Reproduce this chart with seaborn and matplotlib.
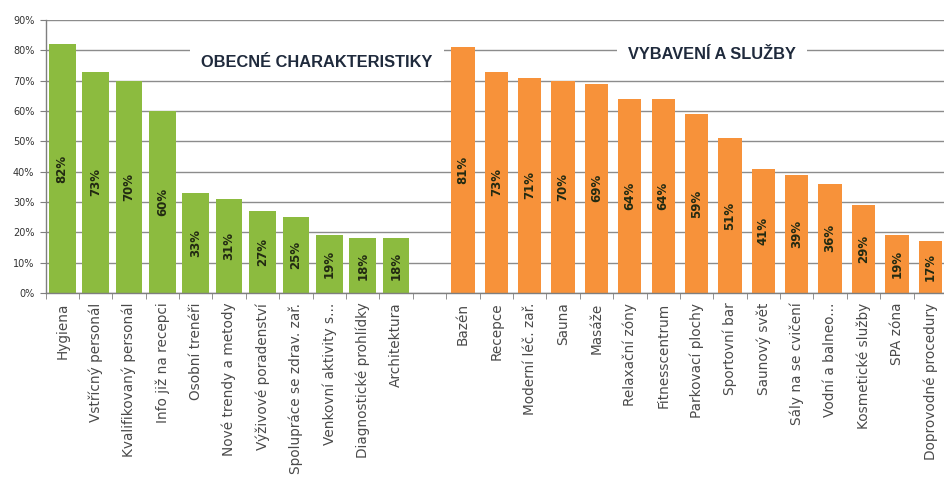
import numpy as np
import pandas as pd
import matplotlib
matplotlib.use('Agg')
import matplotlib.pyplot as plt
import matplotlib.ticker as mticker
import seaborn as sns

sns.set_style('white')
plt.rcParams['font.family'] = ['DejaVu Sans']

GREEN  = '#8CBB3F'
ORANGE = '#F7923A'
GRID   = '#8C8C8C'

# ── data
obecne_labels = ['Hygiena', 'Vstřícný personál', 'Kvalifikovaný personál', 'Info již na recepci',
                 'Osobní trenéři', 'Nové trendy a metody', 'Výživové poradenství',
                 'Spolupráce se zdrav. zař.', 'Venkovní aktivity s...', 'Diagnostické prohlídky',
                 'Architektura']
obecne_values = [82, 73, 70, 60, 33, 31, 27, 25, 19, 18, 18]

vybaveni_labels = ['Bazén', 'Recepce', 'Moderní léč. zař.', 'Sauna', 'Masáže', 'Relaxační zóny',
                   'Fitnesscentrum', 'Parkovací plochy', 'Sportovní bar', 'Saunový svět',
                   'Sály na se cvičení', 'Vodní a balneo...', 'Kosmetické služby', 'SPA zóna',
                   'Doprovodné procedury']
vybaveni_values = [81, 73, 71, 70, 69, 64, 64, 59, 51, 41, 39, 36, 29, 19, 17]

GAP = ' '
order = obecne_labels + [GAP] + vybaveni_labels

df_o = pd.DataFrame({'kat': obecne_labels, 'pct': obecne_values})
df_v = pd.DataFrame({'kat': vybaveni_labels, 'pct': vybaveni_values})

# ── figure
fig = plt.figure(figsize=(9.44, 4.87), dpi=100)
ax = fig.add_axes([45.5/944, 1-293/487, 1-45.5/944, (293-20)/487])

sns.barplot(data=df_o, x='kat', y='pct', order=order, color=GREEN, width=0.8,
            saturation=1, errorbar=None, linewidth=0, ax=ax, zorder=2)
sns.barplot(data=df_v, x='kat', y='pct', order=order, color=ORANGE, width=0.7,
            saturation=1, errorbar=None, linewidth=0, ax=ax, zorder=2)

for cont, vals in zip(ax.containers, [obecne_values, vybaveni_values]):
    ax.bar_label(cont, labels=[f'{v}%' for v in vals], label_type='center',
                 rotation=90, fontsize=8.5, fontweight='bold', color='#222A12')

ax.set_xlim(-0.5, 26.41)
ax.set_ylim(0, 90)
ax.yaxis.set_major_locator(mticker.MultipleLocator(10))
ax.yaxis.set_major_formatter(mticker.FuncFormatter(lambda v, _: f'{v:.0f}%'))
ax.grid(axis='y', color=GRID, lw=1, zorder=0)
ax.set_axisbelow(True)
ax.set_xlabel(''); ax.set_ylabel('')

for s in ['top', 'right']:
    ax.spines[s].set_visible(False)
for s in ['left', 'bottom']:
    ax.spines[s].set_color('#7F7F7F')
    ax.spines[s].set_linewidth(1)

ax.set_xticks(range(len(order)))
ax.set_xticklabels(order, rotation=90, ha='center', va='top', fontsize=9.8, color='#4A4A4A')
ax.tick_params(axis='x', which='major', length=0, pad=7)
ax.xaxis.set_minor_locator(mticker.FixedLocator(np.arange(-0.5, 27, 1)))
ax.tick_params(axis='x', which='minor', length=4, color='#7F7F7F', direction='out')
ax.tick_params(axis='y', length=4, color='#7F7F7F', labelsize=7, labelcolor='#333333', pad=4)
ax.tick_params(axis='both', left=True, bottom=True)
ax.tick_params(axis='x', which='minor', bottom=True)

title_kw = dict(ha='center', va='center', fontsize=11.8, fontweight='bold', color='#1F2A3C',
                family=['Liberation Sans Narrow', 'Liberation Sans', 'DejaVu Sans'], zorder=3,
                bbox=dict(facecolor='white', edgecolor='none', pad=8))
ax.text(7.63, 76.0, 'OBECNÉ CHARAKTERISTIKY', **title_kw)
ax.text(19.45, 78.5, 'VYBAVENÍ A SLUŽBY', **title_kw)

plt.savefig('out.png', dpi=100)
plt.close()
